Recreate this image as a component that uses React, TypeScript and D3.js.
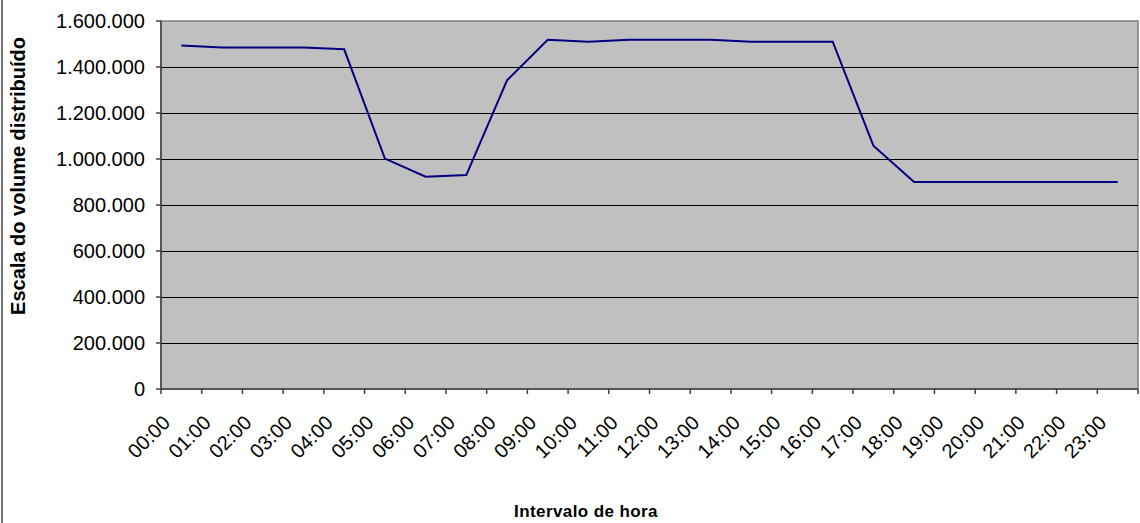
import React from 'react';
import * as d3 from 'd3';

const hours = [
  '00:00', '01:00', '02:00', '03:00', '04:00', '05:00', '06:00', '07:00',
  '08:00', '09:00', '10:00', '11:00', '12:00', '13:00', '14:00', '15:00',
  '16:00', '17:00', '18:00', '19:00', '20:00', '21:00', '22:00', '23:00',
];

const volume = [
  1493000, 1485000, 1485000, 1485000, 1477000, 1002000, 923000, 930000,
  1342000, 1518000, 1510000, 1518000, 1518000, 1518000, 1510000, 1510000,
  1510000, 1058000, 900000, 900000, 900000, 900000, 900000, 900000,
];

const yTicks = [0, 200000, 400000, 600000, 800000, 1000000, 1200000, 1400000, 1600000];

const width = 1140;
const height = 523;
const font = 'Arial, "Liberation Sans", sans-serif';

const App = () => {
  const margin = { top: 21, right: 2, bottom: 134, left: 161 };
  const plotW = width - margin.left - margin.right;
  const plotH = height - margin.top - margin.bottom;

  const x = d3.scaleBand().domain(hours).range([0, plotW]);
  const y = d3.scaleLinear().domain([0, 1600000]).range([plotH, 0]);

  const ptBR = d3.formatLocale({ decimal: ',', thousands: '.', grouping: [3], currency: ['R$', ''] });
  const fmt = ptBR.format(',d');

  const line = d3.line<number>()
    .x((d, i) => (x(hours[i]) as number) + x.bandwidth() / 2)
    .y(d => y(d));

  return (
    <div style={{ position: 'absolute', left: 0, top: 0 }}>
      <svg width={width} height={height} style={{ display: 'block', background: '#fff' }}>
        {/* outer frame, only the left edge is visible */}
        <line x1={2} x2={2} y1={0} y2={height} stroke="#444" strokeWidth={1.5} />

        <g transform={`translate(${margin.left},${margin.top})`}>
          <rect x={0} y={0} width={plotW} height={plotH} fill="#c0c0c0" stroke="#808080" strokeWidth={1.5} />

          {yTicks.filter(t => t > 0 && t < 1600000).map(t => (
            <line key={t} x1={0} x2={plotW} y1={y(t)} y2={y(t)} stroke="#000" strokeWidth={1} shapeRendering="crispEdges" />
          ))}

          {/* axes */}
          <line x1={0} x2={0} y1={0} y2={plotH} stroke="#404040" strokeWidth={1.5} />
          <line x1={0} x2={plotW} y1={plotH} y2={plotH} stroke="#404040" strokeWidth={1.5} />

          {yTicks.map(t => (
            <g key={t} transform={`translate(0,${y(t)})`}>
              <line x1={-5} x2={0} stroke="#404040" strokeWidth={1.5} />
              <text x={-16} dy="0.36em" textAnchor="end" fontFamily={font} fontSize={20} fill="#000">
                {fmt(t)}
              </text>
            </g>
          ))}

          {hours.map(h => (
            <line key={h} x1={x(h)} x2={x(h)} y1={plotH} y2={plotH + 5} stroke="#404040" strokeWidth={1.5} />
          ))}
          <line x1={plotW} x2={plotW} y1={plotH} y2={plotH + 5} stroke="#404040" strokeWidth={1.5} />

          {hours.map(h => {
            const cx = (x(h) as number) + x.bandwidth() / 2;
            return (
              <text
                key={h}
                transform={`translate(${cx - 10},${plotH + 35}) rotate(-45)`}
                textAnchor="end"
                fontFamily={font}
                fontSize={20}
                fill="#000"
              >
                {h}
              </text>
            );
          })}

          <path d={line(volume) || ''} fill="none" stroke="#000080" strokeWidth={2} />
        </g>

        <text
          transform="translate(25,176) rotate(-90)"
          textAnchor="middle"
          fontFamily={font}
          fontSize={20}
          fontWeight="bold"
          fill="#000"
        >
          Escala do volume distribuído
        </text>

        <text x={586} y={517} textAnchor="middle" fontFamily={font} fontSize={17} fontWeight="bold" letterSpacing={0.4} fill="#000">
          Intervalo de hora
        </text>
      </svg>
    </div>
  );
};

export default App;
